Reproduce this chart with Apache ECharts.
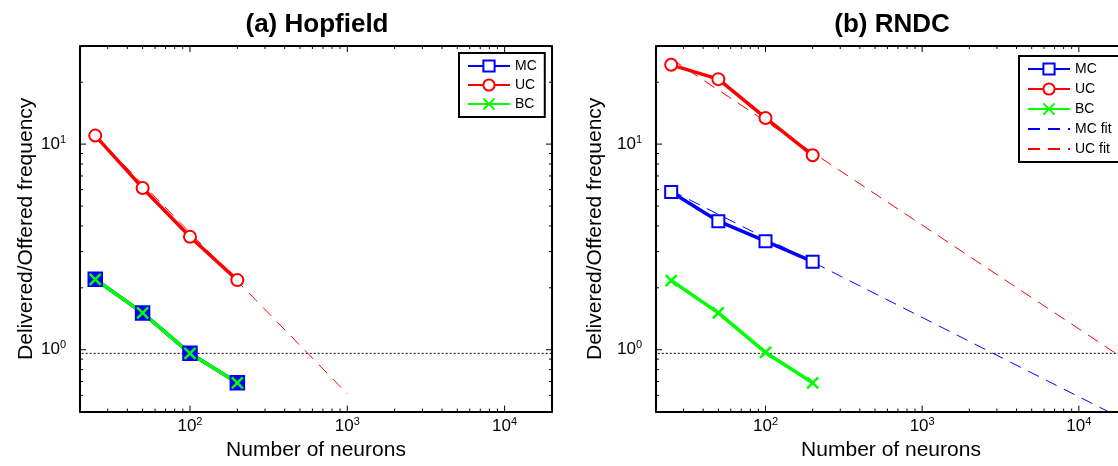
<!DOCTYPE html>
<html>
<head>
<meta charset="utf-8">
<script src="https://cdn.jsdelivr.net/npm/echarts@6/dist/echarts.min.js"></script>
<style>
html,body{margin:0;padding:0;background:#fff;overflow:hidden;width:1118px;height:466px;}
#chart{width:1130px;height:466px;}
</style>
</head>
<body>
<div id="chart"></div>
<script>
// ---- data ----
const nNeurons = [25, 50, 100, 200];
// (a) Hopfield
const hopMC = [2.20, 1.51, 0.96, 0.69];
const hopUC = [11.0, 6.12, 3.54, 2.18];
const hopBC = [2.20, 1.51, 0.96, 0.69];
const hopUCfitX = [25, 1000];
const hopUCfitY = [11.0, 0.61];
// (b) RNDC
const rnMC = [5.85, 4.22, 3.37, 2.68];
const rnUC = [24.3, 20.7, 13.4, 8.82];
const rnBC = [2.17, 1.51, 0.97, 0.69];
const rnMCfitX = [25, 15400];
const rnMCfitY = [5.95, 0.5];
const rnUCfitX = [25, 20000];
const rnUCfitY = [26.0, 0.89];
// reference (dotted) line
const refX = [15.3, 20000];
const refY = [0.96, 0.96];
// axes
const xRange = [20, 20000];
const yRange = [0.5, 30];
const xMajorTicks = [100, 1000, 10000];
const xMinorTicks = [30, 40, 50, 60, 70, 80, 90, 200, 300, 400, 500, 600, 700, 800, 900,
                     2000, 3000, 4000, 5000, 6000, 7000, 8000, 9000];
const yMajorTicks = [1, 10];
const yMinorTicks = [0.6, 0.7, 0.8, 0.9, 2, 3, 4, 5, 6, 7, 8, 9, 20];
const titles = ['(a) Hopfield', '(b) RNDC'];
const xName = 'Number of neurons';
const yName = 'Delivered/Offered frequency';

// ---- helpers ----
const FONT = '"Liberation Sans", Arial, Helvetica, sans-serif';
const zip = (xs, ys) => xs.map((x, i) => [x, ys[i]]);
const XSYM = 'path://M0,0L10,10M0,10L10,0';
const BLUE = '#0000ff', RED = '#ff0000', GREEN = '#00ff00';

function powLabel(v) {
  const e = Math.log10(v);
  if (Math.abs(e - Math.round(e)) > 1e-6) return '';
  return '{b|10}{s|' + Math.round(e) + '}';
}
const labelRich = {
  b: {fontSize: 17, fontFamily: FONT, color: '#000', lineHeight: 20},
  s: {fontSize: 11, fontFamily: FONT, color: '#000', lineHeight: 12, verticalAlign: 'top'}
};

function mainX(grid) {
  return {
    type: 'log', logBase: 10, gridIndex: grid, min: xRange[0], max: xRange[1], position: 'bottom',
    name: xName, nameLocation: 'middle', nameGap: 26,
    nameTextStyle: {fontSize: 21, fontFamily: FONT, color: '#000'},
    axisLine: {show: true, lineStyle: {color: '#000', width: 2}},
    axisTick: {show: false}, splitLine: {show: false}, minorTick: {show: false},
    axisLabel: {show: true, margin: 5, formatter: powLabel, rich: labelRich,
                showMinLabel: false, showMaxLabel: false}
  };
}
function mainY(grid, gap) {
  return {
    type: 'log', logBase: 10, gridIndex: grid, min: yRange[0], max: yRange[1], position: 'left',
    name: yName, nameLocation: 'middle', nameGap: gap,
    nameTextStyle: {fontSize: 21, fontFamily: FONT, color: '#000'},
    axisLine: {show: true, lineStyle: {color: '#000', width: 2}},
    axisTick: {show: false}, splitLine: {show: false},
    axisLabel: {show: true, margin: 14, formatter: powLabel, rich: labelRich,
                showMinLabel: false, showMaxLabel: false}
  };
}
function frameAxis(type, grid, pos) {
  const r = type === 'x' ? xRange : yRange;
  return {
    type: 'log', logBase: 10, gridIndex: grid, min: r[0], max: r[1], position: pos,
    axisLine: {show: true, onZero: false, lineStyle: {color: '#000', width: 2}},
    axisTick: {show: false}, axisLabel: {show: false}, splitLine: {show: false}
  };
}

function tickSeries(kind, vals, len, xi, yi) {
  const data = vals.map(v => kind === 'x' ? [v, yRange[0]] : [xRange[0], v]);
  return {
    type: 'custom', xAxisIndex: xi, yAxisIndex: yi, silent: true, animation: false, z: 5,
    data: data,
    renderItem: function (params, api) {
      let a, b;
      const st = {stroke: '#000', lineWidth: 1};
      if (kind === 'x') {
        const v = api.value(0);
        a = api.coord([v, yRange[0]]);
        b = api.coord([v, yRange[1]]);
        return {type: 'group', children: [
          {type: 'line', shape: {x1: a[0], y1: a[1], x2: a[0], y2: a[1] - len}, style: st},
          {type: 'line', shape: {x1: b[0], y1: b[1], x2: b[0], y2: b[1] + len}, style: st}
        ]};
      } else {
        const v = api.value(1);
        a = api.coord([xRange[0], v]);
        b = api.coord([xRange[1], v]);
        return {type: 'group', children: [
          {type: 'line', shape: {x1: a[0], y1: a[1], x2: a[0] + len, y2: a[1]}, style: st},
          {type: 'line', shape: {x1: b[0], y1: b[1], x2: b[0] - len, y2: b[1]}, style: st}
        ]};
      }
    }
  };
}

function dataLine(name, xs, ys, color, symbol, size, xi, yi) {
  return {
    name: name, type: 'line', xAxisIndex: xi, yAxisIndex: yi, data: zip(xs, ys),
    symbol: symbol, symbolSize: size, showSymbol: true, animation: false, z: 3,
    lineStyle: {color: color, width: 3.5},
    itemStyle: {color: color, borderColor: color, borderWidth: 2.5},
    emphasis: {disabled: true}
  };
}
function fitLine(name, xs, ys, color, xi, yi) {
  return {
    name: name, type: 'line', xAxisIndex: xi, yAxisIndex: yi, data: zip(xs, ys),
    symbol: 'none', animation: false, z: 2,
    lineStyle: {color: color, width: 1, type: [12, 8]},
    itemStyle: {color: color},
    emphasis: {disabled: true}
  };
}
function refLine(xi, yi) {
  return {
    name: 'ref', type: 'line', xAxisIndex: xi, yAxisIndex: yi, data: zip(refX, refY),
    symbol: 'none', animation: false, z: 1, clip: false,
    lineStyle: {color: '#000', width: 1, type: [2, 2]},
    emphasis: {disabled: true}
  };
}

const series = [
  // (b) RNDC first so the legend uses its marker styles
  refLine(2, 2),
  fitLine('MC fit', rnMCfitX, rnMCfitY, BLUE, 2, 2),
  fitLine('UC fit', rnUCfitX, rnUCfitY, RED, 2, 2),
  dataLine('MC', nNeurons, rnMC, BLUE, 'emptyRect', 12, 2, 2),
  dataLine('UC', nNeurons, rnUC, RED, 'emptyCircle', 12, 2, 2),
  dataLine('BC', nNeurons, rnBC, GREEN, XSYM, 11, 2, 2),
  // (a) Hopfield
  refLine(0, 0),
  fitLine('UC fit', hopUCfitX, hopUCfitY, RED, 0, 0),
  dataLine('MC', nNeurons, hopMC, BLUE, 'rect', 13, 0, 0),
  dataLine('UC', nNeurons, hopUC, RED, 'emptyCircle', 12, 0, 0),
  dataLine('BC', nNeurons, hopBC, GREEN, XSYM, 11, 0, 0),
  // ticks
  tickSeries('x', xMajorTicks, 6, 0, 0), tickSeries('x', xMinorTicks, 3, 0, 0),
  tickSeries('y', yMajorTicks, 6, 0, 0), tickSeries('y', yMinorTicks, 3, 0, 0),
  tickSeries('x', xMajorTicks, 6, 2, 2), tickSeries('x', xMinorTicks, 3, 2, 2),
  tickSeries('y', yMajorTicks, 6, 2, 2), tickSeries('y', yMinorTicks, 3, 2, 2)
];

const legendCommon = {
  orient: 'vertical', itemWidth: 42, itemHeight: 14, itemGap: 5, padding: [6, 8, 6, 8],
  backgroundColor: '#fff', borderColor: '#000', borderWidth: 2, borderRadius: 0,
  textStyle: {fontSize: 14, fontFamily: FONT, color: '#000', padding: [0, 0, 0, 0]},
  selectedMode: false, z: 10
};
const noSym = {opacity: 0};

const option = {
  backgroundColor: '#fff',
  animation: false,
  title: [
    {text: titles[0], left: 312, top: 7, textAlign: 'center',
     textStyle: {fontSize: 26, fontWeight: 'bold', fontFamily: FONT, color: '#000'}},
    {text: titles[1], left: 887, top: 7, textAlign: 'center',
     textStyle: {fontSize: 26, fontWeight: 'bold', fontFamily: FONT, color: '#000'}}
  ],
  grid: [
    {left: 80, top: 46, width: 472, height: 369, containLabel: false},
    {left: 656, top: 46, width: 470, height: 369, containLabel: false}
  ],
  xAxis: [mainX(0), frameAxis('x', 0, 'top'), mainX(1), frameAxis('x', 1, 'top')],
  yAxis: [mainY(0, 42), frameAxis('y', 0, 'right'), mainY(1, 50), frameAxis('y', 1, 'right')],
  legend: [
    Object.assign({}, legendCommon, {left: 459, top: 53, data: ['MC', 'UC', 'BC']}),
    Object.assign({}, legendCommon, {left: 1019, top: 56, itemGap: 6,
      data: ['MC', 'UC', 'BC', {name: 'MC fit', itemStyle: noSym}, {name: 'UC fit', itemStyle: noSym}]})
  ],
  series: series
};

const chart = echarts.init(document.getElementById('chart'), null, {renderer: 'canvas'});
chart.setOption(option);
</script>
</body>
</html>
